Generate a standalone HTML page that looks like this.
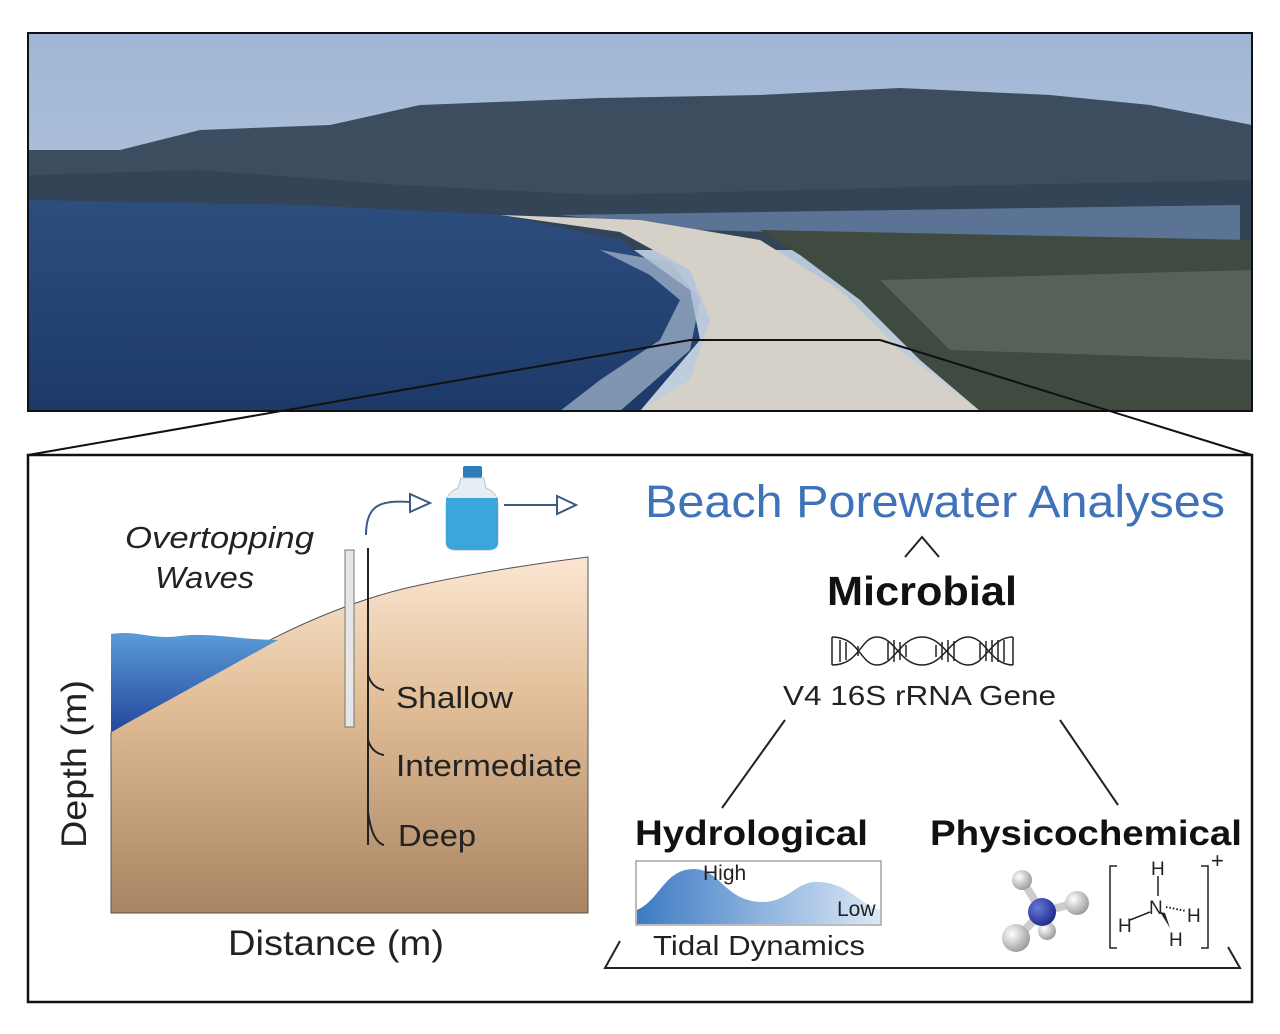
<!DOCTYPE html>
<html><head><meta charset="utf-8"><style>
html,body{margin:0;padding:0;background:#fff;}
svg{display:block;font-family:"Liberation Sans",sans-serif;}
</style></head><body>
<svg width="1280" height="1034" viewBox="0 0 1280 1034" xmlns="http://www.w3.org/2000/svg">
<defs>
<linearGradient id="sky" x1="0" y1="0" x2="0" y2="1"><stop offset="0" stop-color="#9fb6d6"/><stop offset="1" stop-color="#c3cfdc"/></linearGradient>
<linearGradient id="sea" x1="0" y1="0" x2="0" y2="1"><stop offset="0" stop-color="#2c4e7f"/><stop offset="1" stop-color="#1c3a68"/></linearGradient>
<linearGradient id="sand" x1="0" y1="0" x2="0" y2="1"><stop offset="0" stop-color="#fbe6d2"/><stop offset="0.4" stop-color="#e2bf99"/><stop offset="1" stop-color="#a98462"/></linearGradient>
<linearGradient id="water" x1="0" y1="0" x2="0" y2="1"><stop offset="0" stop-color="#5b9bd8"/><stop offset="1" stop-color="#24479c"/></linearGradient>
<linearGradient id="tide" x1="0" y1="0" x2="1" y2="0"><stop offset="0" stop-color="#3c7bc4"/><stop offset="1" stop-color="#dbe8f6"/></linearGradient>
<radialGradient id="ball" cx="0.35" cy="0.35" r="0.7"><stop offset="0" stop-color="#fff"/><stop offset="1" stop-color="#9a9a9a"/></radialGradient>
<radialGradient id="nball" cx="0.35" cy="0.35" r="0.7"><stop offset="0" stop-color="#6a7ad8"/><stop offset="1" stop-color="#1d2a8a"/></radialGradient>
</defs>
<!-- photo -->
<rect x="28" y="33" width="1224" height="378" fill="url(#sky)"/>
<path d="M28,150 L120,150 L200,130 L330,125 L420,105 L600,98 L760,95 L900,88 L1050,95 L1150,105 L1252,125 L1252,250 L28,250 Z" fill="#3d4d60"/>
<path d="M28,175 L200,170 L400,185 L600,195 L800,190 L1000,185 L1252,180 L1252,250 L28,250 Z" fill="#334457"/>
<path d="M28,200 L300,205 L500,215 L620,240 L690,290 L700,340 L640,411 L28,411 Z" fill="url(#sea)"/>
<path d="M560,215 L1240,205 L1240,245 L700,230 Z" fill="#5b7496"/>
<path d="M500,215 L620,232 L690,270 L710,320 L690,380 L640,411 L980,411 L900,350 L840,290 L760,240 L640,220 Z" fill="#d6d1c8"/>
<path d="M600,250 L650,275 L680,300 L660,340 L600,380 L560,411 L620,411 L690,350 L700,300 L670,262 Z" fill="#a9bad0" opacity="0.7"/>
<path d="M760,230 L1252,240 L1252,411 L980,411 L920,360 L860,300 L800,255 Z" fill="#3f4a40"/>
<path d="M880,280 L1252,270 L1252,360 L950,350 Z" fill="#5e665e" opacity="0.8"/>
<rect x="28" y="33" width="1224" height="378" fill="none" stroke="#111" stroke-width="2"/>
<!-- zoom lines -->
<path d="M690,340 L880,340" stroke="#111" stroke-width="2" fill="none"/>
<path d="M690,340 L28,455 M880,340 L1252,455" stroke="#111" stroke-width="2"/>
<rect x="28" y="455" width="1224" height="547" fill="#fff" stroke="#111" stroke-width="2.5"/>
<!-- sand -->
<path d="M111,732 C200,680 300,610 420,585 C480,572 540,563 588,557 L588,913 L111,913 Z" fill="url(#sand)" stroke="#555" stroke-width="1"/>
<path d="M111,634 C140,630 150,640 180,636 C210,632 240,640 278,640 C220,672 160,705 111,732 Z" fill="url(#water)"/>
<rect x="345" y="550" width="9" height="177" fill="#e6e6e6" stroke="#777" stroke-width="1"/>
<path d="M368,548 L368,845 M368,675 Q372,688 384,690 M368,740 Q372,753 384,755 M368,812 Q372,842 384,845" stroke="#222" stroke-width="2" fill="none"/>
<g lengthAdjust="spacingAndGlyphs">
<text x="396" y="708" font-size="31" fill="#222" textLength="117" lengthAdjust="spacingAndGlyphs">Shallow</text>
<text x="396" y="776" font-size="31" fill="#222" textLength="186" lengthAdjust="spacingAndGlyphs">Intermediate</text>
<text x="398" y="846" font-size="31" fill="#222" textLength="78" lengthAdjust="spacingAndGlyphs">Deep</text>
<text x="125" y="548" font-size="31" font-style="italic" fill="#222" textLength="189" lengthAdjust="spacingAndGlyphs">Overtopping</text>
<text x="155" y="588" font-size="31" font-style="italic" fill="#222" textLength="99" lengthAdjust="spacingAndGlyphs">Waves</text>
<text transform="translate(86,764) rotate(-90)" text-anchor="middle" font-size="35" fill="#222" textLength="168" lengthAdjust="spacingAndGlyphs">Depth (m)</text>
<text x="228" y="955" font-size="35" fill="#222" textLength="216" lengthAdjust="spacingAndGlyphs">Distance (m)</text>
</g>
<!-- arrows & bottle -->
<path d="M366,535 C366,505 380,500 410,502" stroke="#3b5a80" stroke-width="2" fill="none"/>
<path d="M410,494 L430,503 L410,512 Z" fill="#fff" stroke="#3b5a80" stroke-width="2"/>
<path d="M504,505 L557,505" stroke="#3b5a80" stroke-width="2"/>
<path d="M557,496 L576,505 L557,514 Z" fill="#fff" stroke="#3b5a80" stroke-width="2"/>
<rect x="463" y="466" width="19" height="12" rx="2" fill="#2b7cb8"/>
<path d="M461,478 L484,478 L486,488 C496,492 498,498 498,508 L498,542 Q498,550 488,550 L456,550 Q446,550 446,542 L446,508 C446,498 448,492 458,488 Z" fill="#e6eef3" stroke="#b8c6cf"/>
<path d="M446,498 L498,498 L498,542 Q498,550 488,550 L456,550 Q446,550 446,542 Z" fill="#3aa6dc"/>
<!-- right panel -->
<text x="645" y="517" font-size="45" fill="#3f72b8" textLength="580" lengthAdjust="spacingAndGlyphs">Beach Porewater Analyses</text>
<path d="M905,557 L922,537 L939,557" stroke="#222" stroke-width="2" fill="none"/>
<text x="827" y="605" font-size="41" font-weight="bold" fill="#111" textLength="190" lengthAdjust="spacingAndGlyphs">Microbial</text>
<g stroke="#222" stroke-width="1.5" fill="none">
<path d="M832,637 C860,637 860,665 877,665 C895,665 900,637 922,637 C944,637 950,665 968,665 C986,665 990,637 1013,637"/>
<path d="M832,665 C860,665 860,637 877,637 C895,637 900,665 922,665 C944,665 950,637 968,637 C986,637 990,665 1013,665"/>
<path d="M832,637 L832,665 M1013,637 L1013,665 M840,640 V662 M846,642 V660 M858,646 V656 M888,642 V660 M894,640 V662 M900,642 V660 M906,645 V657 M936,645 V657 M942,642 V660 M948,640 V662 M954,641 V661 M980,643 V659 M986,641 V661 M992,640 V662 M998,640 V662 M1004,640 V662"/>
</g>
<text x="783" y="705" font-size="28" fill="#222" textLength="273" lengthAdjust="spacingAndGlyphs">V4 16S rRNA Gene</text>
<path d="M785,720 L722,808 M1060,720 L1118,805" stroke="#222" stroke-width="2"/>
<text x="635" y="845" font-size="35" font-weight="bold" fill="#111" textLength="233" lengthAdjust="spacingAndGlyphs">Hydrological</text>
<text x="930" y="845" font-size="35" font-weight="bold" fill="#111" textLength="312" lengthAdjust="spacingAndGlyphs">Physicochemical</text>
<rect x="636" y="861" width="245" height="64" fill="#fff" stroke="#777"/>
<path d="M637,910 C660,900 665,868 695,869 C720,870 725,900 760,902 C790,903 795,880 820,882 C850,884 860,905 880,910 L880,924 L637,924 Z" fill="url(#tide)"/>
<text x="703" y="880" font-size="21" fill="#222">High</text>
<text x="837" y="916" font-size="21" fill="#222">Low</text>
<text x="653" y="955" font-size="28" fill="#222" textLength="212" lengthAdjust="spacingAndGlyphs">Tidal Dynamics</text>
<path d="M620,941 L605,968 L1240,968 L1228,947" stroke="#222" stroke-width="2" fill="none"/>
<!-- molecule -->
<g stroke="#ccc" stroke-width="8"><path d="M1042,912 L1022,880 M1042,912 L1075,903 M1042,912 L1018,937 M1042,912 L1047,932"/></g>
<circle cx="1047" cy="931" r="9" fill="url(#ball)"/>
<circle cx="1042" cy="912" r="14" fill="url(#nball)"/>
<circle cx="1022" cy="880" r="10" fill="url(#ball)"/>
<circle cx="1077" cy="903" r="12" fill="url(#ball)"/>
<circle cx="1016" cy="938" r="14" fill="url(#ball)"/>
<g fill="none" stroke="#222" stroke-width="1.5">
<path d="M1117,866 L1110,866 L1110,948 L1117,948 M1201,866 L1208,866 L1208,948 L1201,948"/>
<path d="M1158,876 V896 M1150,912 L1130,920"/>
</g>
<path d="M1160,912 L1170,928 L1165,913 Z" fill="#222"/>
<path d="M1166,907 L1186,911" stroke="#222" stroke-width="2" stroke-dasharray="1.5,2"/>
<g font-size="19" fill="#222">
<text x="1151" y="875">H</text><text x="1149" y="914">N</text><text x="1118" y="932">H</text><text x="1187" y="922">H</text><text x="1169" y="946">H</text><text x="1211" y="868" font-size="22">+</text>
</g>
</svg>
</body></html>
